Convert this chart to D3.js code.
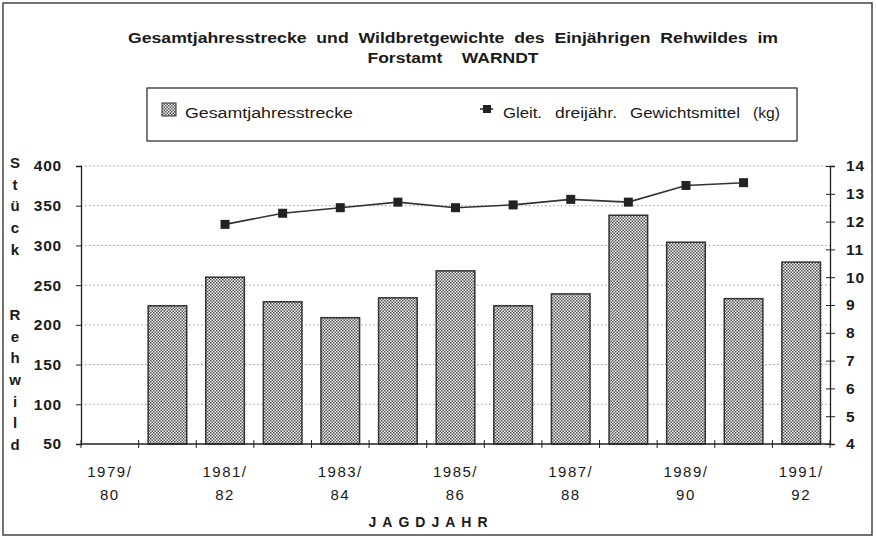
<!DOCTYPE html>
<html><head><meta charset="utf-8">
<script src="https://cdn.jsdelivr.net/npm/d3@7"></script>
<style>
body{margin:0;background:#fff;}
svg{display:block;}
text{font-family:"Liberation Sans",Arial,sans-serif;fill:#1a1a1a;}
</style></head>
<body><svg id="c" width="876" height="539"></svg>
<script>
const categories = ["1979/80","1980/81","1981/82","1982/83","1983/84","1984/85","1985/86","1986/87","1987/88","1988/89","1989/90","1990/91","1991/92"];
const strecke = [null,224,260,229,209,234,268,224,239,338,304,233,279];
const gewicht = [null,null,11.9,12.3,12.5,12.7,12.5,12.6,12.8,12.7,13.3,13.4,null];
const leftTicks = [50,100,150,200,250,300,350,400];
const rightTicks = [4,5,6,7,8,9,10,11,12,13,14];
const labeledCats = ["1979/80","1981/82","1983/84","1985/86","1987/88","1989/90","1991/92"];
const titleLines = ["Gesamtjahresstrecke  und  Wildbretgewichte  des  Einjährigen  Rehwildes  im","Forstamt    WARNDT"];
const yLabel = ["S","t","ü","c","k","","","R","e","h","w","i","l","d"];
const legendBar = "Gesamtjahresstrecke";
const legendLineWords = ["Gleit.","dreijähr.","Gewichtsmittel","(kg)"];

const svg = d3.select("#c");
const L = 81, R = 830, T = 166, B = 444;
const x = d3.scaleBand().domain(categories).range([L, R]).paddingInner(0.33).paddingOuter(0.165);
const xb = d3.scaleBand().domain(categories).range([L, R]);
const yL = d3.scaleLinear().domain([50,400]).range([B,T]);
const yR = d3.scaleLinear().domain([4,14]).range([B,T]);

const defs = svg.append("defs");
const pat = defs.append("pattern").attr("id","chk").attr("width",3).attr("height",3).attr("patternUnits","userSpaceOnUse");
pat.append("rect").attr("width",3).attr("height",3).attr("fill","#f2f2f2");
pat.append("rect").attr("width",1.5).attr("height",1.5).attr("fill","#555");
pat.append("rect").attr("x",1.5).attr("y",1.5).attr("width",1.5).attr("height",1.5).attr("fill","#555");

// frame
svg.append("rect").attr("x",3).attr("y",3).attr("width",869).attr("height",532).attr("fill","none").attr("stroke","#444").attr("stroke-width",1.5);

// title
const tW = [650,171];
svg.append("g").selectAll("text").data(titleLines).join("text")
  .attr("x",453).attr("y",(d,i)=>43+i*20).attr("text-anchor","middle")
  .attr("font-size",14.5).attr("font-weight","bold").attr("xml:space","preserve")
  .attr("textLength",(d,i)=>tW[i]).attr("lengthAdjust","spacingAndGlyphs").text(d=>d);

// legend
const lg = svg.append("g");
lg.append("rect").attr("x",147).attr("y",88).attr("width",650).attr("height",53).attr("fill","#fff").attr("stroke","#333").attr("stroke-width",1.3);
lg.append("rect").attr("x",162).attr("y",103).attr("width",14).attr("height",13).attr("fill","url(#chk)").attr("stroke","#333");
lg.append("text").attr("x",185).attr("y",118).attr("font-size",15.5).attr("textLength",168).attr("lengthAdjust","spacingAndGlyphs").text(legendBar);
lg.append("line").attr("x1",480).attr("x2",493).attr("y1",109).attr("y2",109).attr("stroke","#222").attr("stroke-width",1.5);
lg.append("rect").attr("x",483).attr("y",105).attr("width",8).attr("height",8).attr("fill","#222");
const wx = [503,555,630,753], ww = [39,62,110,27];
lg.selectAll(".lw").data(legendLineWords).join("text").attr("class","lw")
  .attr("x",(d,i)=>wx[i]).attr("y",118).attr("font-size",15.5)
  .attr("textLength",(d,i)=>ww[i]).attr("lengthAdjust","spacingAndGlyphs").text(d=>d);

// gridlines
svg.append("g").selectAll("line").data(leftTicks.filter(d=>d>50)).join("line")
  .attr("x1",L).attr("x2",R).attr("y1",d=>yL(d)).attr("y2",d=>yL(d))
  .attr("stroke","#999").attr("stroke-width",1).attr("stroke-dasharray","1.5,2.5");

// bars
svg.append("g").selectAll("rect").data(categories.map((c,i)=>({c,v:strecke[i]})).filter(d=>d.v!=null)).join("rect")
  .attr("x",d=>x(d.c)).attr("width",x.bandwidth()).attr("y",d=>yL(d.v)).attr("height",d=>B-yL(d.v))
  .attr("fill","url(#chk)").attr("stroke","#333").attr("stroke-width",1.5);

// line
const pts = categories.map((c,i)=>({c,v:gewicht[i]})).filter(d=>d.v!=null);
svg.append("path").datum(pts).attr("fill","none").attr("stroke","#333").attr("stroke-width",1.6)
  .attr("d",d3.line().x(d=>xb(d.c)+xb.bandwidth()/2).y(d=>yR(d.v)));
svg.append("g").selectAll("rect").data(pts).join("rect")
  .attr("x",d=>xb(d.c)+xb.bandwidth()/2-4.5).attr("y",d=>yR(d.v)-4.5).attr("width",9).attr("height",9).attr("fill","#222");

// left axis
const la = svg.append("g").attr("transform",`translate(${L},0)`).call(d3.axisLeft(yL).tickValues(leftTicks).tickSize(5).tickPadding(14));
la.select(".domain").attr("stroke","#222").attr("stroke-width",1.3);
la.selectAll("line").attr("stroke","#222");
la.selectAll("text").attr("font-size",15.5).attr("font-weight","bold").attr("letter-spacing","0.8").attr("fill","#1a1a1a").attr("font-family","Liberation Sans, Arial, sans-serif");

// right axis
const ra = svg.append("g").attr("transform",`translate(${R},0)`).call(d3.axisRight(yR).tickValues(rightTicks).tickSize(5).tickPadding(11));
ra.select(".domain").attr("stroke","#222").attr("stroke-width",1.3);
ra.selectAll(".tick line").attr("x1",-4).attr("stroke","#222");
ra.selectAll("text").attr("font-size",15.5).attr("font-weight","bold").attr("letter-spacing","0.8").attr("fill","#1a1a1a").attr("font-family","Liberation Sans, Arial, sans-serif");

// bottom axis
const ba = svg.append("g").attr("transform",`translate(0,${B})`);
ba.append("line").attr("x1",L).attr("x2",R).attr("stroke","#222").attr("stroke-width",1.3);
ba.selectAll(".tk").data(categories.concat(["end"])).join("line").attr("class","tk")
  .attr("x1",(d,i)=>L+i*xb.bandwidth()).attr("x2",(d,i)=>L+i*xb.bandwidth()).attr("y1",-4).attr("y2",4)
  .attr("stroke","#222");
const xl = ba.selectAll(".xl").data(labeledCats).join("text").attr("class","xl")
  .attr("text-anchor","middle").attr("font-size",15).attr("letter-spacing","1.5");
xl.append("tspan").attr("x",d=>xb(d)+xb.bandwidth()/2).attr("y",33).text(d=>d.split("/")[0]+"/");
xl.append("tspan").attr("x",d=>xb(d)+xb.bandwidth()/2).attr("y",56).text(d=>d.split("/")[1]);

// axis titles
svg.append("text").attr("x",431).attr("y",527).attr("text-anchor","middle").attr("font-size",14).attr("font-weight","bold").attr("letter-spacing","6").text("JAGDJAHR");
svg.append("g").selectAll("text").data(yLabel).join("text")
  .attr("x",15).attr("y",(d,i)=>168+i*21.7).attr("text-anchor","middle").attr("font-size",15).attr("font-weight","bold").text(d=>d);
</script></body></html>
